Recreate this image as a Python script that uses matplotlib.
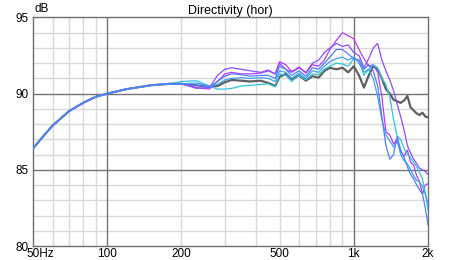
"""Directivity (hor) chart: SPL vs frequency for several off-axis angles."""

import matplotlib

matplotlib.use("Agg")
import matplotlib.pyplot as plt
from matplotlib.ticker import FixedLocator, NullFormatter
from matplotlib.transforms import ScaledTranslation

plt.rcParams["font.family"] = ["Liberation Sans", "DejaVu Sans"]

FREQ = [
    50, 55, 60, 70, 80, 90, 100, 120, 150, 180, 200, 230, 260, 280, 300, 320,
    350, 380, 420, 450, 480, 500, 530, 560, 600, 640, 680, 720, 760, 800, 850,
    900, 950, 1000, 1050, 1100, 1150, 1200, 1250, 1300, 1350, 1400, 1450, 1500,
    1550, 1600, 1650, 1700, 1750, 1800, 1850, 1900, 1950, 2000,
]

LOW_END = [86.4, 87.2, 87.9, 88.85, 89.4, 89.8, 90.0, 90.3, 90.55, 90.65]

GRAY = LOW_END + [
    90.65, 90.55, 90.45, 90.5, 90.75, 90.9, 90.85, 90.8, 90.85, 90.7, 90.5,
    91.1, 91.3, 90.95, 91.2, 90.85, 91.15, 91.05, 91.5, 91.7, 91.6, 91.7,
    91.4, 91.8, 91.2, 90.4, 91.2, 91.8, 91.6, 91.0, 90.3, 90.0, 89.6, 89.5,
    89.4, 89.55, 89.85, 89.1, 88.9, 88.7, 88.6, 88.75, 88.5, 88.45,
]
MAGENTA = LOW_END + [
    90.65, 90.4, 90.3, 90.8, 91.3, 91.4, 91.3, 91.3, 91.35, 91.5, 91.3,
    92.1, 91.9, 91.45, 91.75, 91.35, 91.9, 91.8, 92.2, 92.9, 93.5, 94.0,
    93.8, 93.6, 92.9, 92.3, 91.8, 91.9, 91.4, 89.8, 87.5, 87.3, 86.7, 87.0,
    86.2, 85.9, 86.3, 85.5, 85.3, 84.6, 84.2, 83.4, 84.0, 84.1,
]
VIOLET = LOW_END + [
    90.65, 90.35, 90.4, 91.2, 91.6, 91.7, 91.6, 91.5, 91.4, 91.55, 91.3,
    92.0, 91.6, 91.4, 91.7, 91.4, 92.0, 92.2, 92.7, 93.0, 93.3, 93.1,
    93.2, 92.7, 92.5, 91.7, 92.3, 93.0, 93.3, 92.2, 91.5, 90.9, 90.2, 89.3,
    88.5, 87.6, 86.6, 86.1, 85.7, 85.4, 85.1, 85.0, 84.9, 84.7,
]
BLUE = LOW_END + [
    90.65, 90.55, 90.45, 90.8, 91.15, 91.3, 91.25, 91.15, 91.2, 91.2, 91.0,
    91.8, 91.6, 91.2, 91.5, 91.15, 91.7, 91.6, 92.0, 92.4, 92.9, 92.9,
    92.6, 92.3, 92.2, 91.6, 91.9, 91.5, 90.5, 88.5, 86.6, 85.7, 86.0, 87.2,
    86.3, 85.8, 85.2, 84.7, 84.4, 84.0, 83.7, 83.4, 82.5, 81.4,
]
SKY = LOW_END + [
    90.65, 90.7, 90.5, 90.6, 90.9, 91.0, 91.05, 91.0, 91.05, 91.0, 90.8,
    91.5, 91.4, 91.0, 91.35, 91.0, 91.5, 91.4, 91.8, 92.1, 92.3, 92.4,
    92.2, 92.4, 92.0, 91.4, 91.6, 91.0, 89.8, 88.3, 87.3, 86.9, 86.5, 86.9,
    86.0, 85.6, 85.4, 85.0, 84.6, 84.3, 84.2, 83.9, 83.4, 82.8,
]
CYAN = LOW_END + [
    90.8, 90.85, 90.5, 90.3, 90.3, 90.35, 90.5, 90.55, 90.6, 90.65, 90.45,
    91.3, 91.2, 90.8, 91.2, 90.9, 91.3, 91.25, 91.6, 91.8, 92.0, 91.95,
    91.8, 92.3, 92.2, 91.2, 91.6, 91.9, 91.7, 91.0, 90.6, 89.8, 88.3, 87.2,
    87.0, 86.4, 86.0, 85.8, 85.5, 85.2, 84.8, 84.4, 83.5, 82.4,
]

SERIES = [
    (MAGENTA, "#b43cff"),
    (VIOLET, "#8a4dff"),
    (CYAN, "#2ec4dc"),
    (SKY, "#3fa2f0"),
    (BLUE, "#4f7dff"),
]

X_TICKS = [50, 100, 200, 500, 1000, 2000]
X_LABELS = ["50Hz", "100", "200", "500", "1k", "2k"]
Y_TICKS = [80, 85, 90, 95]

fig = plt.figure(figsize=(4.6, 2.6), dpi=100)
ax = fig.add_axes([0.0717, 0.0538, 0.8587, 0.8789])

ax.set_xscale("log")
ax.set_xlim(50, 2000)
ax.set_ylim(80, 95)

# grid: light every dB / minor decade step, darker on 100, 1k, 85, 90
minor_x = [60, 70, 80, 90, 200, 300, 400, 500, 600, 700, 800, 900]
for f in minor_x:
    ax.axvline(f, color="#d9d9d9", linewidth=1.0, zorder=0)
for v in range(81, 95):
    if v % 5:
        ax.axhline(v, color="#d9d9d9", linewidth=1.0, zorder=0)
for f in [100, 1000]:
    ax.axvline(f, color="#747474", linewidth=1.0, zorder=0.5)
for v in [85, 90]:
    ax.axhline(v, color="#747474", linewidth=1.0, zorder=0.5)

ax.plot(FREQ, GRAY, color="#5f5f5f", linewidth=1.6, zorder=2)
for values, color in SERIES:
    ax.plot(FREQ, values, color=color, linewidth=0.9, zorder=3)

ax.xaxis.set_major_locator(FixedLocator(X_TICKS))
ax.xaxis.set_minor_formatter(NullFormatter())
ax.set_xticks([], minor=True)
ax.set_xticklabels(X_LABELS)
ax.set_yticks(Y_TICKS)
ax.tick_params(axis="both", length=0, labelsize=8.5, colors="black")
ax.tick_params(axis="x", pad=1.5)
ax.tick_params(axis="y", pad=2.8)

# "50Hz": number centred on the tick, unit hanging to the right
first = ax.get_xticklabels()[0]
first.set_horizontalalignment("left")
first.set_transform(first.get_transform()
                    + ScaledTranslation(-0.066, 0, fig.dpi_scale_trans))

for spine in ax.spines.values():
    spine.set_color("#6e6e6e")
    spine.set_linewidth(1.0)

ax.text(0.003, 1.012, "dB", transform=ax.transAxes, fontsize=8.5,
        ha="left", va="bottom")
ax.set_title("Directivity (hor)", fontsize=9, pad=2.5)

fig.savefig("out.png", dpi=100)
